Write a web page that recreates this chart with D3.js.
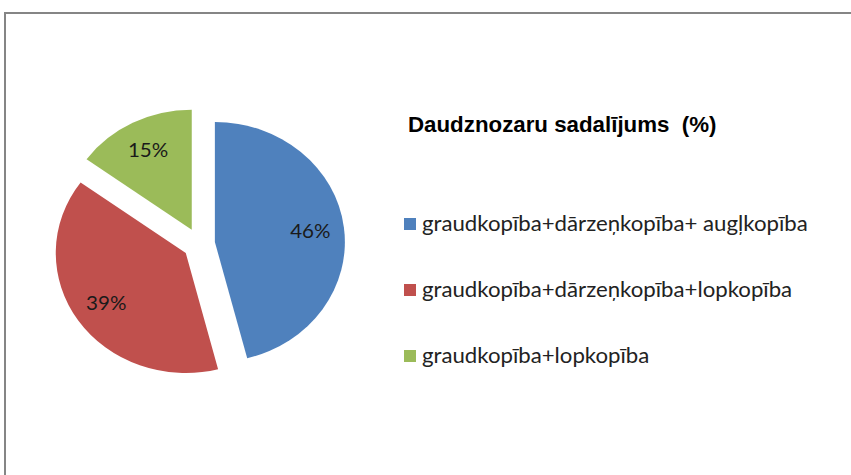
<!DOCTYPE html>
<html>
<head>
<meta charset="utf-8">
<script src="https://cdn.jsdelivr.net/npm/d3@7/dist/d3.min.js"></script>
<style>
  html, body { margin: 0; padding: 0; background: #fff; }
  svg { display: block; }
  text { white-space: pre; }
</style>
</head>
<body>
<svg id="chart" width="851" height="475"></svg>
<script>
/* data */
const categories = [
  'graudkopība+dārzeņkopība+ augļkopība',
  'graudkopība+dārzeņkopība+lopkopība',
  'graudkopība+lopkopība',
];
const values = [46, 39, 15];
const colors = ['#4F81BD', '#C0504D', '#9BBB59'];
const title = 'Daudznozaru sadalījums  (%)';

const width = 851;
const height = 475;
// the original picture is a little wider than tall
const stretch = 130 / 120;

const svg = d3.select('#chart');

/* chart frame */
svg.append('path')
  .attr('d', `M${width + 2},13H5V${height + 2}`)
  .attr('fill', 'none')
  .attr('stroke', '#858585')
  .attr('stroke-width', 2);

/* pie */
const cx = 199;
const cy = 244;
const r = 120;
const explode = 16;

const pie = d3.pie().sort(null).value((d) => d);
const arcs = pie(values);
const arc = d3.arc().innerRadius(0).outerRadius(r);
const labelArc = d3.arc().innerRadius(r * 0.74 * 2).outerRadius(0);

const slices = svg.append('g').attr('class', 'pie')
  .selectAll('g')
  .data(arcs)
  .join('g')
  .attr('transform', (d) => {
    const mid = (d.startAngle + d.endAngle) / 2;
    const x = cx + explode * Math.sin(mid);
    const y = cy - explode * Math.cos(mid);
    return `translate(${x},${y}) scale(${stretch},1)`;
  });

slices.append('path')
  .attr('d', arc)
  .attr('fill', (d, i) => colors[i]);

slices.append('text')
  .attr('transform', (d) => {
    const [x, y] = labelArc.centroid(d);
    return `translate(${x},${y})`;
  })
  .attr('text-anchor', 'middle')
  .attr('dy', '0.35em')
  .attr('font-family', 'Lato, "Open Sans", sans-serif')
  .attr('font-size', 19)
  .attr('fill', '#1a1a1a')
  .text((d) => `${d.data}%`);

/* title */
svg.append('text')
  .attr('x', 408)
  .attr('y', 132)
  .attr('font-family', '"Liberation Sans", Arial, sans-serif')
  .attr('font-weight', 'bold')
  .attr('font-size', 22.3)
  .attr('fill', '#000')
  .text(title);

/* legend */
const legend = svg.append('g').attr('class', 'legend')
  .selectAll('g')
  .data(categories)
  .join('g')
  .attr('transform', (d, i) => `translate(404,${224 + i * 66})`);

legend.append('rect')
  .attr('x', 0)
  .attr('y', -6)
  .attr('width', 12)
  .attr('height', 12)
  .attr('fill', (d, i) => colors[i]);

legend.append('text')
  .attr('transform', `translate(18,0) scale(${stretch},1)`)
  .attr('dy', '0.35em')
  .attr('font-family', 'Lato, "Open Sans", sans-serif')
  .attr('font-size', 20.5)
  .attr('fill', '#222')
  .text((d) => d);
</script>
</body>
</html>
